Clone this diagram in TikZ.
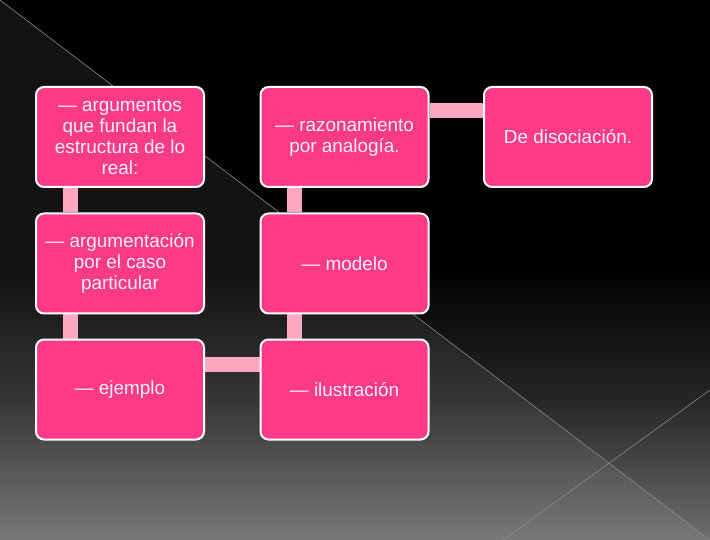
\documentclass[tikz,border=0pt]{standalone}
\usepackage{fontspec}
\setmainfont{Liberation Sans}
\definecolor{boxpink}{HTML}{FD3A87}
\definecolor{linkpink}{HTML}{FFA8C2}
\definecolor{txtcol}{HTML}{FFF0F6}
\definecolor{midgray}{HTML}{262626}
\definecolor{lowgray}{HTML}{6E6E6E}
\definecolor{ruleline}{HTML}{8A8A8A}
\pgfdeclarelayer{bglayer}
\pgfdeclarelayer{linklayer}
\pgfsetlayers{bglayer,linklayer,main}
\begin{document}
\begin{tikzpicture}[x=1pt,y=-1pt,
  box/.style={draw=white, line width=2pt, fill=boxpink, rounded corners=8pt,
    minimum width=168pt, minimum height=100pt, align=center, text=txtcol,
    font=\fontsize{18.9}{21.3}\selectfont, inner sep=2pt},
  link/.style={draw=linkpink, line width=15pt},
  rule/.style={draw=ruleline, line width=0.6pt}]
\useasboundingbox (0,0) rectangle (710,540);
\begin{pgfonlayer}{bglayer}
  \fill[black] (0,0) rectangle (710,540);
  \fill[top color=black, bottom color=midgray] (0,270) rectangle (710,400.5);
  \fill[top color=midgray, bottom color=lowgray] (0,400) rectangle (710,540);
  \fill[white, opacity=0.075] (0,0) -- (710,540) -- (0,540) -- cycle;
  \coordinate (d1) at (0,0);
  \coordinate (d2) at (710,540);
  \coordinate (d3) at (503,540);
  \coordinate (d4) at (710,390);
  \draw[rule] (d1) -- (d2);
  \draw[rule] (d3) -- (d4);
\end{pgfonlayer}

\node[box] (b1) at (120,137) {— argumentos\\que fundan la\\estructura de lo\\real:};
\node[box] (b2) at (344.5,137) {— razonamiento\\por analogía.};
\node[box] (b3) at (568,137) {De disociación.};
\node[box] (b4) at (120,263.5) {— argumentación\\por el caso\\particular};
\node[box] (b5) at (344.5,263.5) {— modelo};
\node[box] (b6) at (120,389.5) {— ejemplo};
\node[box] (b7) at (344.5,389.5) {— ilustración};

\begin{pgfonlayer}{linklayer}
  \draw[link] ([xshift=-50pt]b1.south) -- ([xshift=-50pt]b4.north);
  \draw[link] ([xshift=-50pt]b4.south) -- ([xshift=-50pt]b6.north);
  \draw[link] ([xshift=-50pt]b2.south) -- ([xshift=-50pt]b5.north);
  \draw[link] ([xshift=-50pt]b5.south) -- ([xshift=-50pt]b7.north);
  \draw[link] ([yshift=25.5pt]b6.east) -- ([yshift=25.5pt]b7.west);
  \draw[link] ([yshift=26pt]b2.east) -- ([yshift=26pt]b3.west);
\end{pgfonlayer}
\end{tikzpicture}
\end{document}
